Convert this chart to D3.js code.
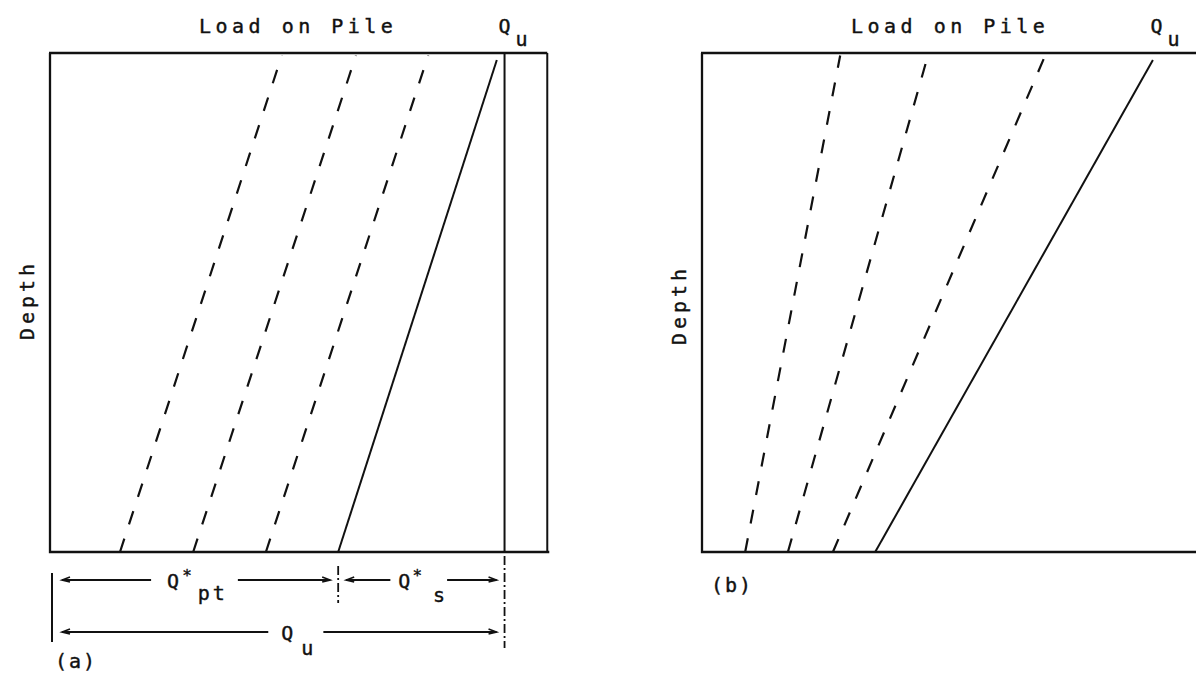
<!DOCTYPE html>
<html><head><meta charset="utf-8">
<script src="https://cdn.jsdelivr.net/npm/d3@7"></script>
<style>
html,body{margin:0;padding:0;background:#fff;}
svg{display:block;}
text{font-family:"DejaVu Sans Mono",monospace;fill:#111;stroke:#111;stroke-width:0.4px;}
</style></head><body>
<svg id="chart" width="1196" height="678"></svg>
<script>
// ---------------- data ----------------
const titleText = "Load on Pile";
const depthText = "Depth";
const panelLabels = ["(a)", "(b)"];
const quLoad = 100;                 // ultimate load Q_u (load units)
const frameRightLoad = [109.4, 112]; // right edge of each frame (load units)
// panel (a): load-transfer lines, load at pile tip (bottom) and at head (top)
const styleA = ["dashed", "dashed", "dashed", "solid"];
const bottomLoadA = [15.4, 31.5, 47.5, 63.4];
const topLoadA = [51.0, 67.3, 83.2, 98.3];
const topDepthA = [0.005, 0.005, 0.005, 0.014];
// panel (b)
const styleB = ["dashed", "dashed", "dashed", "solid"];
const bottomLoadB = [9.5, 18.9, 28.8, 38.1];
const topLoadB = [30.4, 49.7, 75.5, 99.2];
const topDepthB = [0.005, 0.005, 0.005, 0.014];
// panel (a) dimension annotations
const qptLoad = 63.4;   // Q*pt part of Q_u
const annNames = ["Qpt", "Qs", "Qu"];
const annFrom = [0, qptLoad, 0];
const annTo = [qptLoad, quLoad, quLoad];
const annRow = [0, 0, 1];

// ---------------- layout ----------------
const svg = d3.select("#chart");
const ink = "#111";
const xA = d3.scaleLinear().domain([0, 110]).range([50, 550]);
const xB = d3.scaleLinear().domain([0, 110]).range([702, 1202]);
const yS = d3.scaleLinear().domain([0, 1]).range([53, 552]);

function drawPanel(x, styles, bLoad, tLoad, tDepth, frameRight, withQuLine, depthCenterY) {
  const g = svg.append("g");
  const fr = x(frameRight);
  g.append("path")
    .attr("d", `M${x(0)-1},${yS(0)}L${fr},${yS(0)}M${x(0)},${yS(0)}L${x(0)},${yS(1)}L${fr+2},${yS(1)}`)
    .attr("fill", "none").attr("stroke", ink).attr("stroke-width", 2.3);
  if (frameRight < 110) {
    g.append("line").attr("x1", fr).attr("x2", fr).attr("y1", yS(0)).attr("y2", yS(1))
      .attr("stroke", ink).attr("stroke-width", 2);
  }
  if (withQuLine) {
    g.append("line").attr("x1", x(quLoad)).attr("x2", x(quLoad)).attr("y1", yS(0)).attr("y2", yS(1))
      .attr("stroke", ink).attr("stroke-width", 2);
  }
  const line = d3.line().x(d => x(d.load)).y(d => yS(d.depth));
  styles.forEach((s, i) => {
    const pts = [{load: bLoad[i], depth: 1}, {load: tLoad[i], depth: tDepth[i]}];
    g.append("path").attr("d", line(pts))
      .attr("fill", "none").attr("stroke", ink)
      .attr("stroke-width", s === "dashed" ? 2.2 : 2)
      .attr("stroke-dasharray", s === "dashed" ? "14,15" : null);
  });
  g.append("text").attr("x", x(54.6)).attr("y", 33).attr("text-anchor", "middle")
    .attr("font-size", 20).attr("letter-spacing", 4.5).text(titleText);
  const qt = g.append("text").attr("x", x(quLoad) - 6).attr("y", 33).attr("font-size", 20);
  qt.append("tspan").text("Q");
  qt.append("tspan").attr("dx", 5).attr("y", 46).text("u");
  g.append("text").attr("transform", `translate(${x(0) - 16},${depthCenterY}) rotate(-90)`)
    .attr("text-anchor", "middle").attr("font-size", 20).attr("letter-spacing", 4).text(depthText);
  return g;
}

drawPanel(xA, styleA, bottomLoadA, topLoadA, topDepthA, frameRightLoad[0], true, 300);
drawPanel(xB, styleB, bottomLoadB, topLoadB, topDepthB, frameRightLoad[1], false, 305);

svg.append("text").attr("x", xA(0) + 5).attr("y", 668).attr("font-size", 20).attr("letter-spacing", 2).text(panelLabels[0]);
svg.append("text").attr("x", xB(0) + 9).attr("y", 592).attr("font-size", 20).attr("letter-spacing", 2).text(panelLabels[1]);

// ---------------- dimension annotations (a) ----------------
const ann = svg.append("g");
const rowY = [580, 632];
ann.append("line").attr("x1", xA(0) + 2).attr("x2", xA(0) + 2).attr("y1", 573).attr("y2", 642)
  .attr("stroke", ink).attr("stroke-width", 2);
[[qptLoad, 566, 603], [quLoad, 556, 648]].forEach(d => {
  ann.append("line").attr("x1", xA(d[0])).attr("x2", xA(d[0])).attr("y1", d[1]).attr("y2", d[2])
    .attr("stroke", ink).attr("stroke-width", 1.8).attr("stroke-dasharray", "9,3,2,3");
});

function labelQpt(g, x0, y) {
  const t = g.append("text").attr("x", x0).attr("y", y + 8).attr("font-size", 20);
  t.append("tspan").text("Q");
  t.append("tspan").attr("dx", 3).attr("y", y + 1).attr("font-size", 16).text("*");
  t.append("tspan").attr("dx", 6).attr("y", y + 20).attr("letter-spacing", 3).text("pt");
  return t;
}
function labelQs(g, x0, y) {
  const t = g.append("text").attr("x", x0).attr("y", y + 8).attr("font-size", 20);
  t.append("tspan").text("Q");
  t.append("tspan").attr("dx", 2).attr("y", y + 1).attr("font-size", 16).text("*");
  t.append("tspan").attr("dx", 11).attr("y", y + 22).text("s");
  return t;
}
function labelQu(g, x0, y) {
  const t = g.append("text").attr("x", x0).attr("y", y + 8).attr("font-size", 20);
  t.append("tspan").text("Q");
  t.append("tspan").attr("dx", 8).attr("y", y + 23).text("u");
  return t;
}
const builders = {Qpt: labelQpt, Qs: labelQs, Qu: labelQu};
const labelShift = {Qpt: -27, Qs: -23, Qu: 4};
const gapL = {Qpt: 16, Qs: 8, Qu: 13};
const gapR = {Qpt: 10, Qs: 2, Qu: 10};
const padL = {Qpt: 12, Qs: 8, Qu: 12};

function arrow(g, x1, x2, y, headAt) {
  g.append("line").attr("x1", x1).attr("x2", x2).attr("y1", y).attr("y2", y)
    .attr("stroke", ink).attr("stroke-width", 2);
  const tip = headAt === "left" ? x1 : x2;
  const dir = headAt === "left" ? 1 : -1;
  g.append("path").attr("d", `M${tip + dir*8},${y-3}L${tip},${y}L${tip + dir*8},${y+2}`)
    .attr("fill", "none").attr("stroke", ink).attr("stroke-width", 1.6);
}

annNames.forEach((n, i) => {
  const a = xA(annFrom[i]), b = xA(annTo[i]);
  const y = rowY[annRow[i]];
  const t = builders[n](ann, (a + b) / 2 + labelShift[n], y);
  const bb = t.node().getBBox();
  arrow(ann, a + padL[n], bb.x - gapL[n], y, "left");
  arrow(ann, bb.x + bb.width + gapR[n], b - 8, y, "right");
});
</script>
</body></html>
